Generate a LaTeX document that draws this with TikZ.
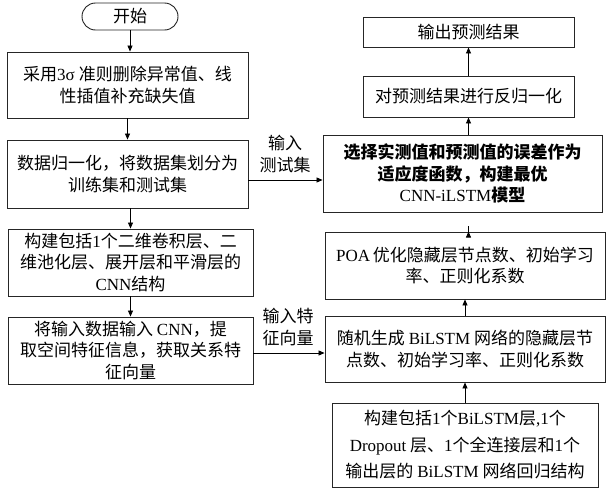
\documentclass[tikz,border=0pt]{standalone}
\usepackage{fontspec}
\setmainfont{Noto Sans CJK SC}
\newfontfamily\lt{Liberation Serif}
\usetikzlibrary{arrows.meta}
\begin{document}
\begin{tikzpicture}[x=1pt,y=-1pt,
  box/.style={draw=black!85, line width=0.9pt, align=center, inner sep=0pt,
    font=\fontsize{17}{21.5}\selectfont},
  lbl/.style={align=center, inner sep=0pt, font=\fontsize{17}{21.5}\selectfont},
  arr/.style={line width=0.8pt, -{Triangle[length=6pt,width=5pt]}}]
\useasboundingbox (0,0) rectangle (610,490);
% left column
\node[box, rounded corners=13.5pt, minimum width=96pt, minimum height=27pt] (start) at (130,16.5) {开始};
\node[box, minimum width=241pt, minimum height=66pt] (b1) at (127.5,85)
  {采用{\lt 3σ }准则删除异常值、线\\性插值补充缺失值};
\node[box, minimum width=241pt, minimum height=68pt] (b2) at (127.5,174)
  {数据归一化，将数据集划分为\\训练集和测试集};
\node[box, minimum width=245pt, minimum height=67pt] (b3) at (130.5,262.5)
  {构建包括{\lt 1}个二维卷积层、二\\维池化层、展开层和平滑层的\\{\lt CNN}结构};
\node[box, minimum width=245pt, minimum height=67pt] (b4) at (130.5,350.5)
  {将输入数据输入 {\lt CNN}，提\\取空间特征信息，获取关系特\\征向量};
% right column
\node[box, minimum width=211pt, minimum height=30pt] (out) at (468.5,32) {输出预测结果};
\node[box, minimum width=211pt, minimum height=41pt] (den) at (468.5,96.5) {对预测结果进行反归一化};
\node[box, minimum width=279pt, minimum height=77pt] (sel) at (462.5,173.5)
  {\bfseries 选择实测值和预测值的误差作为\\\bfseries 适应度函数，构建最优\\{\lt CNN-iLSTM}\bfseries 模型};
\node[box, minimum width=280pt, minimum height=67pt] (poa) at (465,265.5)
  {{\lt POA}\,优化隐藏层节点数、初始学习\\率、正则化系数};
\node[box, minimum width=280pt, minimum height=66pt] (rnd) at (465,349)
  {随机生成 {\lt BiLSTM} 网络的隐藏层节\\点数、初始学习率、正则化系数};
\node[box, minimum width=266pt, minimum height=84pt, font=\fontsize{17}{26.5}\selectfont] (bil) at (465,445)
  {构建包括{\lt 1}个{\lt BiLSTM}层{\lt ,1}个\\{\lt Dropout} 层、{\lt 1}个全连接层和{\lt 1}个\\输出层的 {\lt BiLSTM} 网络回归结构};
% labels
\node[lbl] (l1) at (285,154) {输入\\测试集};
\node[lbl] (l2) at (288,327) {输入特\\征向量};
% left arrows
\draw[arr] (start.south) -- (start.south |- b1.north);
\draw[arr] (b2.north |- b1.south) -- (b2.north);
\draw[arr] (b3.north |- b2.south) -- (b3.north);
\draw[arr] (b3.south) -- (b4.north);
% cross arrows
\draw[arr] ([yshift=-6pt]b2.east) -- ([yshift=-6pt]b2.east -| sel.west);
\draw[arr] ([yshift=-2.5pt]b4.east) -- ([yshift=-2.5pt]b4.east -| rnd.west);
% right arrows
\draw[arr] (bil.north -| rnd.south) -- (rnd.south);
\draw[arr] (rnd.north) -- (poa.south);
\draw[arr] (poa.north -| den.south) -- (poa.north -| den.south |- sel.south);
\draw[arr] (den.south |- sel.north) -- (den.south);
\draw[arr] (den.north) -- (out.south);
\end{tikzpicture}
\end{document}
